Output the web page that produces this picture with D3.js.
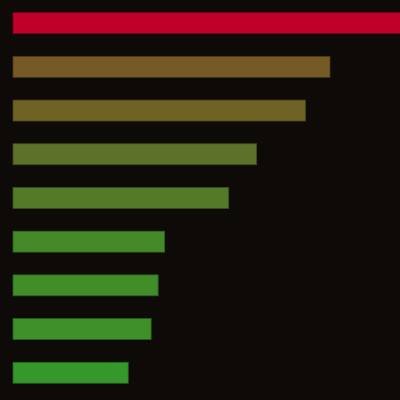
<!DOCTYPE html>
<html>
<head>
<meta charset="utf-8">
<script src="https://cdn.jsdelivr.net/npm/d3@7"></script>
<style>
  html, body { margin: 0; padding: 0; background: #0d0a08; }
  svg { display: block; }
</style>
</head>
<body>
<div id="chart"></div>
<script>
// data
const categories = ['A', 'B', 'C', 'D', 'E', 'F', 'G', 'H', 'I'];
const values = [100, 81.7, 75.4, 62.8, 55.6, 39.1, 37.4, 35.6, 29.7];
const colors = ['#c00028', '#755a25', '#6e6325', '#5d7128', '#547a28', '#448a28', '#418d28', '#3d9128', '#36982a'];

const width = 400, height = 400;

const svg = d3.select('#chart')
    .append('svg')
    .attr('width', width)
    .attr('height', height)
    .style('background', '#0d0a08');

const x = d3.scaleLinear()
    .domain([0, 100])
    .range([13, 401]);

const y = d3.scaleBand()
    .domain(categories)
    .range([1.3, 394.6])
    .paddingInner(0.52)
    .paddingOuter(0.26);

svg.selectAll('.bar')
    .data(categories)
    .join('rect')
    .attr('class', 'bar')
    .attr('x', x(0))
    .attr('y', d => y(d))
    .attr('width', (d, i) => x(values[i]) - x(0))
    .attr('height', y.bandwidth())
    .attr('fill', (d, i) => colors[i])
    .attr('stroke', (d, i) => d3.color(colors[i]).darker(1.2))
    .attr('stroke-width', 0.8);
</script>
</body>
</html>
